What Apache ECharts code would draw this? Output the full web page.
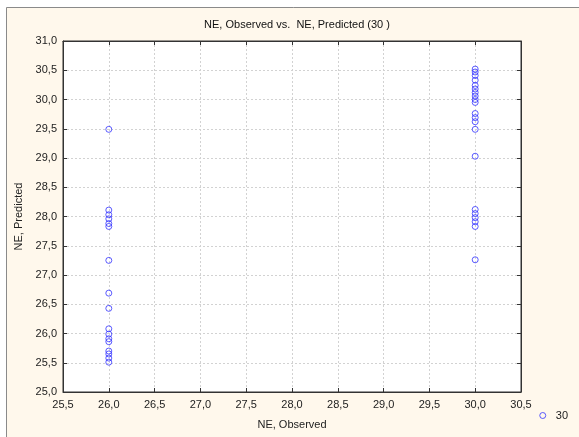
<!DOCTYPE html>
<html><head><meta charset="utf-8">
<script src="https://cdn.jsdelivr.net/npm/echarts@6/dist/echarts.min.js"></script>
<style>html,body{margin:0;padding:0;background:#fff}#c{width:579px;height:437px}</style>
</head><body><div id="c"></div>
<script>
var titleText = 'NE, Observed vs.  NE, Predicted (30 )';
var xName = 'NE, Observed';
var yName = 'NE, Predicted';
var seriesName = '30';
var xTicks = [25.5, 26.0, 26.5, 27.0, 27.5, 28.0, 28.5, 29.0, 29.5, 30.0, 30.5];
var yTicks = [25.0, 25.5, 26.0, 26.5, 27.0, 27.5, 28.0, 28.5, 29.0, 29.5, 30.0, 30.5, 31.0];
var obs26 = [26, 26, 26, 26, 26, 26, 26, 26, 26, 26, 26, 26, 26, 26, 26, 26, 26];
var pred26 = [29.49, 28.11, 28.03, 27.96, 27.88, 27.83, 27.25, 26.69, 26.43, 26.08, 25.99, 25.91, 25.86, 25.70, 25.65, 25.58, 25.51];
var obs30 = [30, 30, 30, 30, 30, 30, 30, 30, 30, 30, 30, 30, 30, 30, 30, 30, 30, 30, 30, 30, 30];
var pred30 = [30.52, 30.47, 30.41, 30.33, 30.24, 30.18, 30.12, 30.06, 30.00, 29.95, 29.76, 29.69, 29.62, 29.49, 29.03, 28.12, 28.05, 27.98, 27.91, 27.83, 27.26];

var pts = [];
obs26.forEach(function(x, i){ pts.push([x, pred26[i]]); });
obs30.forEach(function(x, i){ pts.push([x, pred30[i]]); });

function fmt(v){ return v.toFixed(1).replace('.', ','); }
var font = 'Liberation Sans, Arial, sans-serif';
var chart = echarts.init(document.getElementById('c'), null, {renderer:'canvas'});
var lbl = {color:'#222', fontFamily:font, fontSize:11};
var grid = {color:'#d2d2d2', type:[2,2], width:1};
chart.setOption({
  animation:false,
  backgroundColor:'#ffffff',
  graphic:[{type:'rect', z:-10, shape:{x:6.5, y:7.5, width:700, height:600},
    style:{fill:'#fff8ec', stroke:'#8a8a8a', lineWidth:1}}],
  title:{text:titleText, left:292, top:14, textAlign:'center',
    textStyle:{fontFamily:font, fontSize:11, fontWeight:'normal', color:'#111'}},
  legend:{right:6, top:405, itemWidth:6, itemHeight:6, itemGap:8,
    itemStyle:{color:'rgba(0,0,0,0)', borderColor:'#3535ff', borderWidth:1},
    textStyle:{fontFamily:font, fontSize:11, color:'#222', padding:[0,0,0,5]}, data:[seriesName]},
  grid:{left:63, top:41, width:458, height:351, show:true, backgroundColor:'#ffffff', borderColor:'#333', borderWidth:1},
  xAxis:[{type:'value', min:xTicks[0], max:xTicks[xTicks.length-1], interval:0.5,
    name:xName, nameLocation:'middle', nameGap:27, nameTextStyle:lbl,
    axisLine:{show:true, lineStyle:{color:'#333'}},
    axisTick:{show:true, inside:true, length:4, lineStyle:{color:'#333'}},
    axisLabel:Object.assign({formatter:fmt, margin:7}, lbl),
    splitLine:{show:true, lineStyle:grid}},
   {type:'value', position:'top', min:xTicks[0], max:xTicks[xTicks.length-1], interval:0.5,
    axisLine:{show:true, lineStyle:{color:'#333'}},
    axisTick:{show:true, inside:true, length:4, lineStyle:{color:'#333'}},
    axisLabel:{show:false}, splitLine:{show:false}}],
  yAxis:[{type:'value', min:yTicks[0], max:yTicks[yTicks.length-1], interval:0.5,
    name:yName, nameLocation:'middle', nameGap:38, nameRotate:90, nameTextStyle:lbl,
    axisLine:{show:true, lineStyle:{color:'#333'}},
    axisTick:{show:true, inside:true, length:4, lineStyle:{color:'#333'}},
    axisLabel:Object.assign({formatter:fmt, margin:6}, lbl),
    splitLine:{show:true, lineStyle:grid}},
   {type:'value', position:'right', min:yTicks[0], max:yTicks[yTicks.length-1], interval:0.5,
    axisLine:{show:true, lineStyle:{color:'#333'}},
    axisTick:{show:true, inside:true, length:4, lineStyle:{color:'#333'}},
    axisLabel:{show:false}, splitLine:{show:false}}],
  series:[{name:seriesName, type:'scatter', data:pts, symbol:'circle', symbolSize:6,
    itemStyle:{color:'rgba(0,0,0,0)', borderColor:'#3535ff', borderWidth:1}}]
});
</script></body></html>
